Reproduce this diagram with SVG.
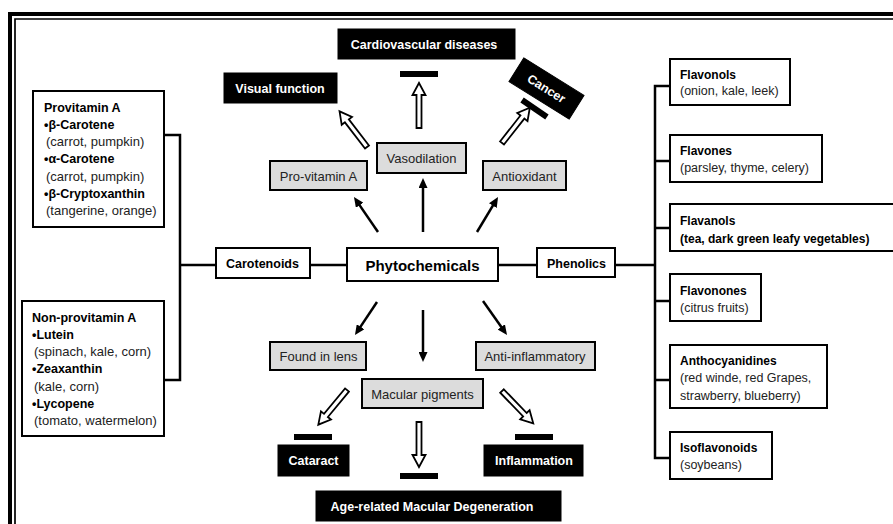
<svg xmlns="http://www.w3.org/2000/svg" xmlns:xlink="http://www.w3.org/1999/xlink" width="893" height="524" viewBox="0 0 893 524">
<style>
text{font-family:"Liberation Sans",Arial,Helvetica,sans-serif;}
.b{font-weight:bold;font-size:12.5px;fill:#000;}
.r{font-size:13px;fill:#222;}
.rb{font-weight:bold;font-size:12px;fill:#000;}
.rr{font-size:12.5px;fill:#222;}
.w{font-weight:bold;font-size:12.5px;fill:#fff;text-anchor:middle;}
.g{font-size:13px;fill:#222;text-anchor:middle;}
.c{text-anchor:middle;}
.box{fill:#fff;stroke:#000;stroke-width:2;}
.gray{fill:#dcdcdc;stroke:#000;stroke-width:2;}
.blk{fill:#000;stroke:#000;stroke-width:1;}
.ln{fill:none;stroke:#000;stroke-width:2.5;}
.ar{fill:none;stroke:#000;stroke-width:2.5;marker-end:url(#ah);}
.bar{fill:#000;}
.frame{fill:none;stroke:#000;}
</style>
<defs>
<marker id="ah" markerWidth="10" markerHeight="9" refX="2" refY="4.5" orient="auto" markerUnits="userSpaceOnUse">
<path d="M0,0 L10,4.5 L0,9 z" fill="#000"/>
</marker>
<path id="harrow" d="M0,-2.5 H33 V-6.5 L45,0 L33,6.5 V2.5 H0 Z" fill="#fff" stroke="#000" stroke-width="1.8" stroke-linejoin="miter"/>
</defs>
<rect width="893" height="524" fill="#fff"/>
<g id="frame">
<path class="frame" d="M10,524 V14 H893" stroke-width="4"/>
<path class="frame" d="M15,524 V19 H893" stroke-width="1.7"/>
</g>
<g id="connectors">
<path class="ln" d="M164,135 H180 V380 H164"/>
<path class="ln" d="M180,265 H216"/>
<path class="ln" d="M310,265 H347"/>
<path class="ln" d="M498,265 H537"/>
<path class="ln" d="M615,265 H655"/>
<path class="ln" d="M670,86 H655 V458 H670"/>
<path class="ln" d="M655,161 H670 M655,228 H670 M655,301 H670 M655,380 H670"/>
<line class="ar" x1="378" y1="232" x2="358.5" y2="203.6"/>
<line class="ar" x1="423" y1="232" x2="423" y2="186"/>
<line class="ar" x1="477" y1="232" x2="493.9" y2="203.9"/>
<line class="ar" x1="377" y1="302" x2="359.4" y2="328.4"/>
<line class="ar" x1="423" y1="310" x2="423" y2="354"/>
<line class="ar" x1="483" y1="301" x2="502.4" y2="328.5"/>
<use xlink:href="#harrow" href="#harrow" transform="translate(367,147) rotate(-127.6)"/>
<use xlink:href="#harrow" href="#harrow" transform="translate(419,128) rotate(-90)"/>
<use xlink:href="#harrow" href="#harrow" transform="translate(502,143) rotate(-51.8)"/>
<use xlink:href="#harrow" href="#harrow" transform="translate(347,390) rotate(129.6)"/>
<use xlink:href="#harrow" href="#harrow" transform="translate(419,422) rotate(90)"/>
<use xlink:href="#harrow" href="#harrow" transform="translate(502,391) rotate(46)"/>
<rect class="bar" x="400" y="71" width="38" height="6"/>
<rect class="bar" x="-15" y="-3" width="30" height="6" transform="translate(534.5,108.5) rotate(34)"/>
<rect class="bar" x="294" y="434" width="38" height="6"/>
<rect class="bar" x="400" y="473" width="38" height="6"/>
<rect class="bar" x="515" y="434" width="38" height="6"/>
</g>
<g id="provitaminA">
<rect class="box" x="33" y="91" width="131" height="136"/>
<text class="b" x="44" y="111.5">Provitamin A</text>
<text class="b" x="44" y="128.8">•β-Carotene</text>
<text class="r" x="46" y="146.1">(carrot, pumpkin)</text>
<text class="b" x="44" y="163.4">•α-Carotene</text>
<text class="r" x="46" y="180.7">(carrot, pumpkin)</text>
<text class="b" x="44" y="198">•β-Cryptoxanthin</text>
<text class="r" x="46" y="215.3">(tangerine, orange)</text>
</g>
<g id="nonprovitaminA">
<rect class="box" x="22" y="301" width="142" height="135"/>
<text class="b" x="32" y="321.5">Non-provitamin A</text>
<text class="b" x="32" y="338.8">•Lutein</text>
<text class="r" x="34" y="356.1">(spinach, kale, corn)</text>
<text class="b" x="32" y="373.4">•Zeaxanthin</text>
<text class="r" x="34" y="390.7">(kale, corn)</text>
<text class="b" x="32" y="408">•Lycopene</text>
<text class="r" x="34" y="425.3">(tomato, watermelon)</text>
</g>
<g id="carotenoids">
<rect class="box" x="216" y="248" width="94" height="30"/>
<text class="b c" x="262.5" y="267.5">Carotenoids</text>
</g>
<g id="phytochemicals">
<rect class="box" x="347" y="248" width="151" height="33"/>
<text class="c" x="422.5" y="271" font-weight="bold" font-size="15">Phytochemicals</text>
</g>
<g id="phenolics">
<rect class="box" x="537" y="248" width="78" height="29"/>
<text class="b c" x="576.5" y="267.5">Phenolics</text>
</g>
<g id="visualfunction">
<rect class="blk" x="224" y="73" width="113" height="30"/>
<text class="w" x="280" y="93">Visual function</text>
</g>
<g id="cardiovascular">
<rect class="blk" x="338" y="29" width="177" height="30"/>
<text class="w" x="424" y="49">Cardiovascular diseases</text>
</g>
<g id="cancer" transform="translate(546.5,88.5) rotate(32)">
<rect class="blk" x="-35.5" y="-14" width="71" height="28"/>
<text class="w" x="0" y="4.5">Cancer</text>
</g>
<g id="provitaminA-effect">
<rect class="gray" x="270" y="161" width="97" height="29"/>
<text class="g" x="318.5" y="180.5">Pro-vitamin A</text>
</g>
<g id="vasodilation">
<rect class="gray" x="377" y="143" width="89" height="30"/>
<text class="g" x="421.5" y="162.5">Vasodilation</text>
</g>
<g id="antioxidant">
<rect class="gray" x="483" y="161" width="83" height="29"/>
<text class="g" x="524.5" y="180.5">Antioxidant</text>
</g>
<g id="foundinlens">
<rect class="gray" x="270" y="342" width="96" height="28"/>
<text class="g" x="318.5" y="360.5">Found in lens</text>
</g>
<g id="antiinflammatory">
<rect class="gray" x="476" y="342" width="119" height="28"/>
<text class="g" x="535" y="360.5">Anti-inflammatory</text>
</g>
<g id="macularpigments">
<rect class="gray" x="362" y="379" width="121" height="29"/>
<text class="g" x="422.5" y="398.5">Macular pigments</text>
</g>
<g id="cataract">
<rect class="blk" x="278" y="445" width="71" height="31"/>
<text class="w" x="313.5" y="465">Cataract</text>
</g>
<g id="inflammation">
<rect class="blk" x="484" y="445" width="99" height="31"/>
<text class="w" x="534" y="465">Inflammation</text>
</g>
<g id="amd">
<rect class="blk" x="316" y="491" width="245" height="30"/>
<text class="w" x="432" y="511">Age-related Macular Degeneration</text>
</g>
<g id="flavonols">
<rect class="box" x="670" y="59" width="120" height="46"/>
<text class="rb" x="680" y="78.5">Flavonols</text>
<text class="rr" x="680" y="95">(onion, kale, leek)</text>
</g>
<g id="flavones">
<rect class="box" x="670" y="135" width="152" height="47"/>
<text class="rb" x="680" y="155">Flavones</text>
<text class="rr" x="680" y="171.5">(parsley, thyme, celery)</text>
</g>
<g id="flavanols">
<rect class="box" x="670" y="204" width="240" height="47"/>
<text class="rb" x="680" y="225">Flavanols</text>
<text class="rb" x="680" y="242.5">(tea, dark green leafy vegetables)</text>
</g>
<g id="flavonones">
<rect class="box" x="670" y="274" width="91" height="47"/>
<text class="rb" x="680" y="294.5">Flavonones</text>
<text class="rr" x="680" y="311.5">(citrus fruits)</text>
</g>
<g id="anthocyanidines">
<rect class="box" x="670" y="345" width="157" height="63"/>
<text class="rb" x="680" y="364.5">Anthocyanidines</text>
<text class="rr" x="680" y="382">(red winde, red Grapes,</text>
<text class="rr" x="680" y="400">strawberry, blueberry)</text>
</g>
<g id="isoflavonoids">
<rect class="box" x="670" y="432" width="102" height="47"/>
<text class="rb" x="680" y="451.5">Isoflavonoids</text>
<text class="rr" x="680" y="469">(soybeans)</text>
</g>
</svg>
